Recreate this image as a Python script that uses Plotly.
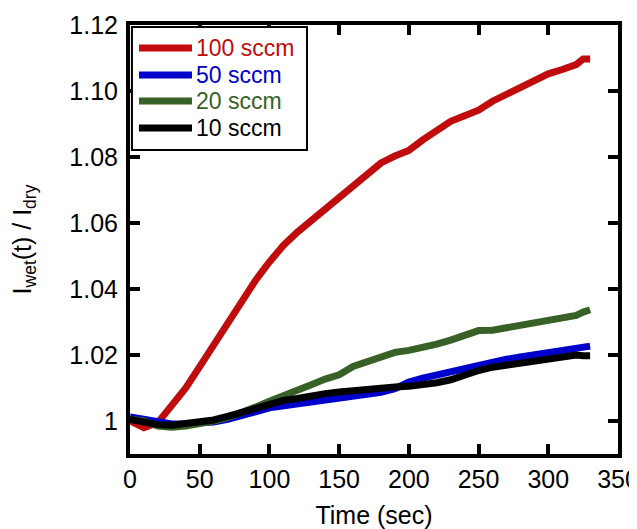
import plotly.graph_objects as go

time_s = [0, 10, 20, 30, 40, 50, 60, 70, 80, 90, 100, 110, 120, 130, 140, 150, 160,
          170, 180, 190, 200, 210, 220, 230, 240, 250, 260, 270, 280, 290, 300, 310,
          320, 325, 330]

r100 = [1.0000, 0.9980, 0.9995, 1.0045, 1.0100, 1.0165, 1.0232, 1.0300, 1.0367, 1.0426,
        1.0482, 1.0532, 1.0572, 1.0608, 1.0638, 1.0677, 1.0716, 1.0752, 1.0782, 1.0803,
        1.0820, 1.0852, 1.0882, 1.0908, 1.0925, 1.0942, 1.0969, 1.0990, 1.1009, 1.1032,
        1.1052, 1.1065, 1.1080, 1.1097, 1.1097]

r50 = [1.0012, 1.0005, 0.9996, 0.9991, 0.9992, 0.9994, 0.9997, 1.0005, 1.0014, 1.0028,
       1.0040, 1.0046, 1.0050, 1.0058, 1.0066, 1.0071, 1.0076, 1.0080, 1.0087, 1.0098,
       1.0118, 1.0130, 1.0140, 1.0152, 1.0160, 1.0172, 1.0180, 1.0187, 1.0194, 1.0201,
       1.0209, 1.0216, 1.0222, 1.0225, 1.0227]

r20 = [1.0005, 1.0000, 0.9985, 0.9981, 0.9985, 0.9991, 1.0000, 1.0010, 1.0024, 1.0042,
       1.0060, 1.0075, 1.0092, 1.0110, 1.0127, 1.0140, 1.0165, 1.0180, 1.0195, 1.0208,
       1.0214, 1.0222, 1.0233, 1.0245, 1.0260, 1.0274, 1.0275, 1.0283, 1.0291, 1.0300,
       1.0309, 1.0314, 1.0320, 1.0330, 1.0337]

r10 = [1.0005, 0.9997, 0.9989, 0.9987, 0.9992, 0.9997, 1.0003, 1.0014, 1.0026, 1.0040,
       1.0053, 1.0062, 1.0068, 1.0077, 1.0083, 1.0088, 1.0093, 1.0097, 1.0100, 1.0103,
       1.0105, 1.0109, 1.0116, 1.0125, 1.0140, 1.0153, 1.0163, 1.0170, 1.0176, 1.0181,
       1.0190, 1.0197, 1.0200, 1.0198, 1.0198]

series_names = ["100 sccm", "50 sccm", "20 sccm", "10 sccm"]
series_values = [r100, r50, r20, r10]
colors = ["#C00C0C", "#0000CC", "#386128", "#000000"]

x_ticks = [0, 50, 100, 150, 200, 250, 300, 350]
y_ticks = [1.00, 1.02, 1.04, 1.06, 1.08, 1.10, 1.12]
y_tick_labels = ["1", "1.02", "1.04", "1.06", "1.08", "1.10", "1.12"]

font = "Liberation Sans, Arial, Helvetica, sans-serif"

fig = go.Figure()
for name, vals, col in zip(series_names, series_values, colors):
    fig.add_trace(go.Scatter(
        x=time_s, y=vals, mode="lines", name=name,
        line=dict(color=col, width=7), showlegend=False,
    ))

# Legend drawn as a framed box with long key lines and coloured labels
legend_box = dict(x0=0.004, x1=0.3627, y0=0.7086, y1=0.9953)
legend_rows_y = [0.9464, 0.8834, 0.8228, 0.7599]
key_x0, key_x1, label_x = 0.0184, 0.127, 0.1332

fig.add_shape(type="rect", xref="x domain", yref="y domain",
              x0=legend_box["x0"], x1=legend_box["x1"],
              y0=legend_box["y0"], y1=legend_box["y1"],
              line=dict(color="black", width=2), fillcolor="white", layer="above")
for name, col, ry in zip(series_names, colors, legend_rows_y):
    fig.add_shape(type="line", xref="x domain", yref="y domain",
                  x0=key_x0, x1=key_x1, y0=ry, y1=ry,
                  line=dict(color=col, width=7), layer="above")
    fig.add_annotation(xref="x domain", yref="y domain", x=label_x, y=ry,
                       text=name, showarrow=False, xanchor="left", yanchor="middle",
                       borderpad=0,
                       font=dict(family=font, size=23, color=col))

axis_common = dict(
    showline=True, linecolor="black", linewidth=4, mirror="ticks",
    ticks="inside", ticklen=10, tickwidth=4, tickcolor="black",
    showgrid=False, zeroline=False, automargin=False,
    tickfont=dict(family=font, size=25, color="black"),
)

fig.update_layout(
    width=629, height=521,
    margin=dict(l=122, r=19, t=17, b=75),
    paper_bgcolor="white", plot_bgcolor="white",
    showlegend=False,
    xaxis=dict(range=[0, 350], tickvals=x_ticks, ticklabelstandoff=0,
               ticklabeloverflow="allow",
               title=dict(text="Time (sec)", font=dict(family=font, size=25, color="black"), standoff=20),
               **axis_common),
    yaxis=dict(range=[0.99, 1.12], tickvals=y_ticks, ticktext=y_tick_labels,
               ticklabelstandoff=3,
               title=dict(text="I<sub>wet</sub>(t) / I<sub>dry</sub>",
                          font=dict(family=font, size=25, color="black"), standoff=35),
               **axis_common),
)

fig.write_html("out.html")
